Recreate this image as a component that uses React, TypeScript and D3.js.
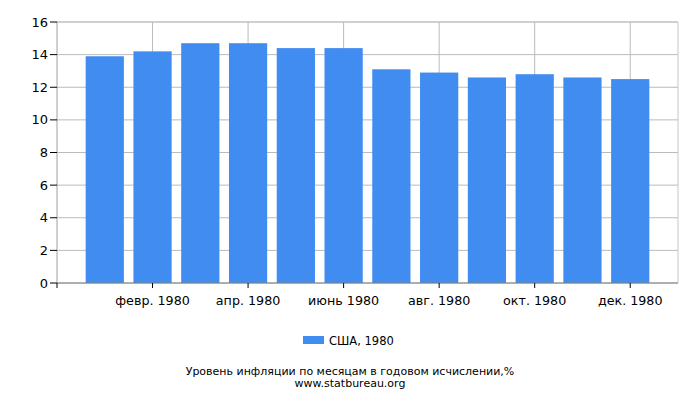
import React from "react";
import * as d3 from "d3";

const months = ["янв. 1980","февр. 1980","март 1980","апр. 1980","май 1980","июнь 1980","июль 1980","авг. 1980","сент. 1980","окт. 1980","нояб. 1980","дек. 1980"];
const values = [13.9, 14.2, 14.7, 14.7, 14.4, 14.4, 13.1, 12.9, 12.6, 12.8, 12.6, 12.5];
const yTicks = [0, 2, 4, 6, 8, 10, 12, 14, 16];
const xTickIdx = [1, 3, 5, 7, 9, 11];
const seriesName = "США, 1980";
const title = "Уровень инфляции по месяцам в годовом исчислении,%";
const source = "www.statbureau.org";

const W = 700, H = 400;
const left = 57, right = 678, top = 22, bottom = 283;
const color = "#418CF0";
const font = "DejaVu Sans, Verdana, sans-serif";

export default function App() {
  const x = d3.scaleLinear().domain([0, 13]).range([left, right]);
  const y = d3.scaleLinear().domain([0, 16]).range([bottom, top]);
  const bw = (x(1) - x(0)) * 0.8;
  return (
    <svg width={W} height={H} style={{ position: "absolute", left: 0, top: 0 }} fontFamily={font}>
      <rect width={W} height={H} fill="#fff" />
      {yTicks.map((t) => (
        <line key={"g" + t} x1={left} x2={right} y1={y(t)} y2={y(t)} stroke={t === 16 ? "#a0a0a0" : "#bbbbbb"} strokeWidth={1} />
      ))}
      {xTickIdx.map((i) => (
        <line key={"v" + i} x1={x(i + 1)} x2={x(i + 1)} y1={top} y2={bottom} stroke="#bbbbbb" />
      ))}
      <line x1={right} x2={right} y1={top} y2={bottom} stroke="#c8c8c8" />
      {values.map((v, i) => (
        <rect key={i} x={x(i + 1) - bw / 2} y={y(v)} width={bw} height={y(0) - y(v)} fill={color} />
      ))}
      <line x1={left} x2={left} y1={top} y2={bottom} stroke="#a0a0a0" />
      <line x1={left} x2={right} y1={bottom} y2={bottom} stroke="#808080" />
      {yTicks.map((t) => (
        <g key={"t" + t}>
          <line x1={left - 7} x2={left} y1={y(t)} y2={y(t)} stroke="#000" />
          <text x={left - 9} y={y(t)} dy="0.35em" textAnchor="end" fontSize={13} fill="#000">{t}</text>
        </g>
      ))}
      <line x1={left} x2={left} y1={bottom} y2={bottom + 5} stroke="#000" />
      {xTickIdx.map((i) => (
        <g key={"xt" + i}>
          <line x1={x(i + 1)} x2={x(i + 1)} y1={bottom} y2={bottom + 5} stroke="#000" />
          <text x={x(i + 1)} y={305} textAnchor="middle" fontSize={12.7} fill="#000">{months[i]}</text>
        </g>
      ))}
      <rect x={303} y={336} width={21} height={8} fill={color} />
      <text x={329} y={344.5} fontSize={11.5} fill="#000">{seriesName}</text>
      <text x={350} y={374.5} textAnchor="middle" fontSize={11} fill="#000">{title}</text>
      <text x={350} y={387} textAnchor="middle" fontSize={11} fill="#000">{source}</text>
    </svg>
  );
}
